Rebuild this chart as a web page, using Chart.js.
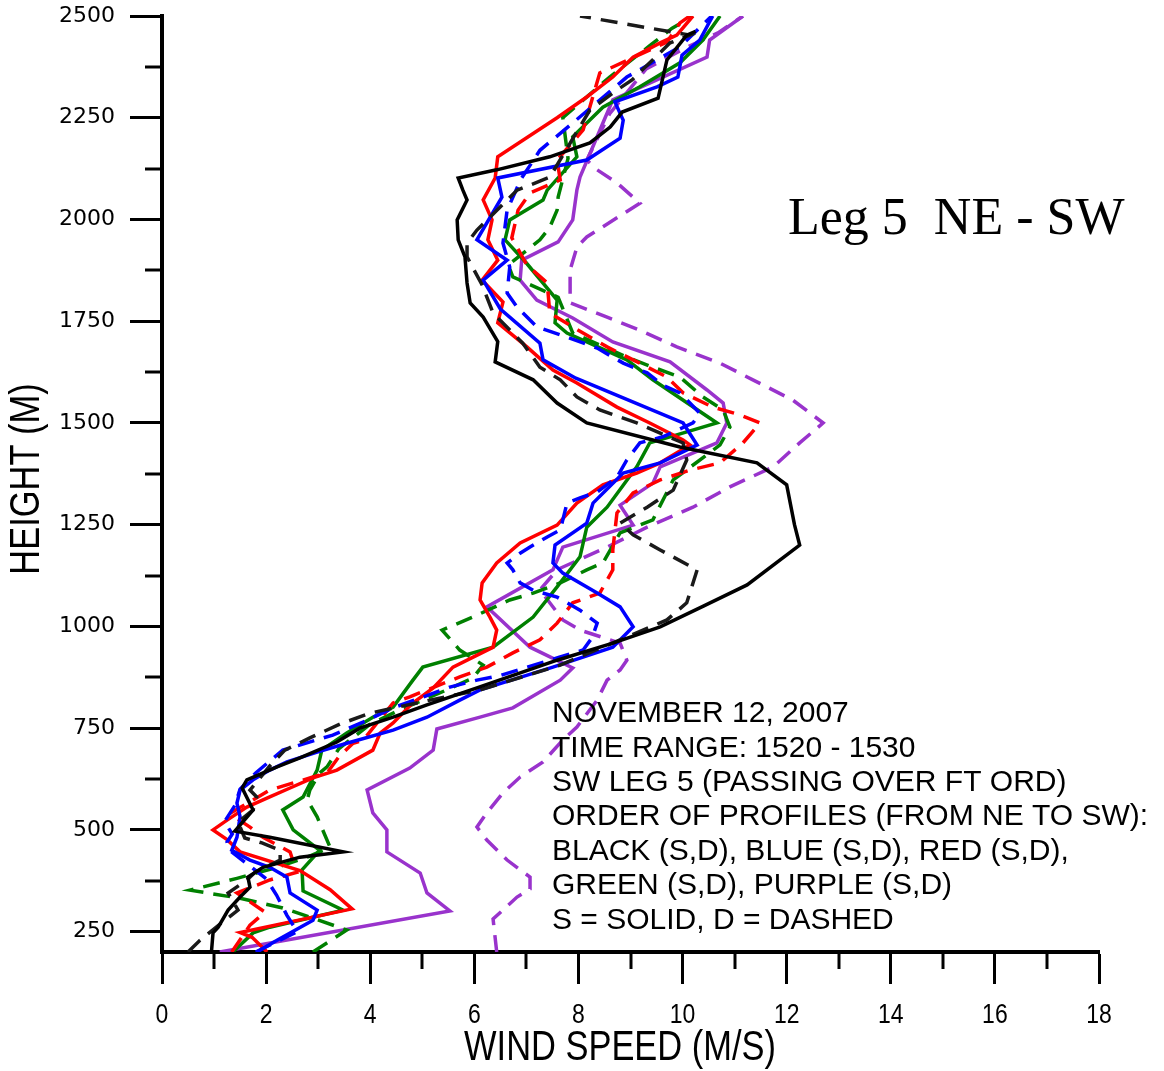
<!DOCTYPE html>
<html>
<head>
<meta charset="utf-8">
<script src="https://cdn.jsdelivr.net/npm/chart.js@4.4.0/dist/chart.umd.min.js"></script>
<style>
  html, body { margin: 0; padding: 0; background: #fff; }
  #wrap { width: 1164px; height: 1071px; }
</style>
</head>
<body>
<div id="wrap"><canvas id="grafica" width="1164" height="1071"></canvas></div>
<script>
// Perfiles de viento - Leg 5 NE - SW (velocidad en m/s, altura en m)

const xMajorTicks = [0, 2, 4, 6, 8, 10, 12, 14, 16, 18];
const xMinorTicks = [1, 3, 5, 7, 9, 11, 13, 15, 17];
const yMajorTicks = [250, 500, 750, 1000, 1250, 1500, 1750, 2000, 2250, 2500];
const yMinorTicks = [375, 625, 875, 1125, 1375, 1625, 1875, 2125, 2375];

// negro continuo
const blackSolidSpeed = [0.95, 0.98, 1.08, 1.27, 1.50, 1.69, 1.65, 1.94, 2.65, 3.48, 2.07, 1.40, 1.75, 1.54, 1.63, 2.21, 2.65, 3.36, 3.80, 4.44, 5.09, 6.05, 7.59, 8.66, 9.57, 10.40, 11.24, 12.25, 12.15, 12.0, 11.43, 9.95, 8.16, 7.59, 7.13, 6.40, 6.45, 6.17, 5.92, 5.86, 5.82, 5.69, 5.67, 5.86, 5.78, 5.69, 6.43, 7.45, 8.22, 8.61, 8.84, 9.53, 9.70, 10.08, 10.25];
const blackSolidHeight = [200, 247, 261, 303, 335, 359, 384, 408, 433, 446, 482, 497, 549, 603, 623, 655, 677, 716, 750, 777, 807, 849, 917, 959, 999, 1050, 1102, 1200, 1250, 1348, 1402, 1441, 1500, 1549, 1606, 1650, 1700, 1760, 1795, 1844, 1908, 1950, 1999, 2048, 2072, 2102, 2122, 2154, 2188, 2227, 2264, 2298, 2392, 2453, 2462];

// negro discontinuo
const blackDashSpeed = [0.50, 0.73, 1.02, 1.46, 1.27, 1.63, 1.79, 2.27, 2.27, 1.92, 1.59, 1.46, 1.75, 1.82, 1.69, 2.07, 2.36, 2.84, 3.42, 4.0, 5.15, 6.11, 7.65, 8.80, 9.70, 10.08, 10.28, 9.57, 9.05, 8.80, 9.32, 9.82, 10.08, 10.01, 9.12, 8.41, 7.97, 7.65, 7.26, 6.93, 6.36, 6.15, 5.86, 5.86, 6.05, 6.82, 7.45, 8.22, 8.74, 9.03, 9.76, 10.14, 8.03];
const blackDashHeight = [200, 229, 259, 303, 345, 377, 396, 426, 450, 468, 480, 519, 549, 581, 598, 657, 696, 726, 760, 787, 819, 844, 905, 967, 1016, 1058, 1139, 1188, 1225, 1254, 1293, 1335, 1409, 1451, 1500, 1532, 1564, 1606, 1637, 1696, 1770, 1839, 1908, 1942, 1974, 2072, 2104, 2269, 2318, 2343, 2434, 2453, 2500];

// azul continuo
const blueSolidSpeed = [1.82, 2.21, 2.90, 2.98, 2.46, 2.40, 2.07, 1.69, 1.34, 1.44, 1.50, 1.44, 1.50, 1.75, 2.07, 2.40, 2.98, 3.55, 4.44, 5.09, 5.72, 6.11, 7.51, 8.66, 9.05, 8.80, 8.36, 7.70, 7.51, 7.55, 8.16, 8.28, 8.86, 9.57, 10.28, 10.01, 7.95, 7.32, 7.26, 6.50, 6.17, 6.63, 6.05, 6.53, 6.45, 8.16, 8.80, 8.86, 8.70, 9.51, 9.91, 9.99, 10.33, 10.58];
const blueSolidHeight = [200, 229, 278, 303, 345, 384, 408, 426, 450, 482, 532, 566, 598, 623, 647, 667, 691, 713, 745, 777, 819, 844, 900, 949, 999, 1048, 1082, 1131, 1156, 1200, 1254, 1303, 1377, 1402, 1446, 1500, 1610, 1655, 1696, 1780, 1851, 1900, 1950, 2055, 2102, 2146, 2200, 2244, 2289, 2326, 2350, 2404, 2441, 2500];

// azul discontinuo
const blueDashSpeed = [1.80, 2.60, 2.40, 2.20, 2.00, 1.60, 1.30, 1.25, 1.35, 1.20, 1.40, 1.50, 1.80, 2.32, 3.28, 3.86, 4.44, 4.96, 5.53, 6.05, 6.49, 7.65, 8.09, 8.26, 8.36, 8.03, 7.59, 7.13, 6.88, 6.74, 6.63, 6.88, 7.07, 7.40, 7.65, 7.70, 7.78, 8.03, 8.36, 8.74, 8.93, 9.18, 9.62, 10.20, 10.33, 9.95, 9.62, 9.32, 8.86, 8.36, 7.78, 7.20, 6.82, 6.63, 6.68, 6.55, 6.63, 6.90, 7.26, 7.89, 8.93, 9.95, 10.56];
const blueDashHeight = [200, 250, 290, 340, 380, 420, 450, 470, 490, 520, 560, 600, 640, 696, 733, 765, 800, 824, 851, 868, 879, 925, 942, 972, 1008, 1040, 1072, 1089, 1107, 1139, 1156, 1180, 1195, 1220, 1237, 1262, 1303, 1316, 1330, 1367, 1409, 1451, 1466, 1500, 1524, 1574, 1593, 1623, 1647, 1684, 1711, 1736, 1785, 1819, 1883, 1942, 2023, 2100, 2170, 2237, 2350, 2424, 2500];

// rojo continuo
const redSolidSpeed = [2.02, 1.73, 1.50, 3.65, 3.23, 2.65, 1.50, 1.25, 0.98, 1.25, 1.63, 2.07, 2.46, 2.90, 3.36, 4.05, 4.19, 4.44, 4.80, 5.21, 5.59, 6.36, 6.43, 6.30, 6.11, 6.15, 6.43, 6.88, 7.59, 7.97, 8.47, 9.12, 9.57, 10.14, 10.01, 9.37, 8.74, 7.97, 7.51, 7.01, 6.45, 6.55, 6.15, 6.45, 6.26, 6.34, 6.17, 6.40, 6.45, 7.59, 8.16, 8.66, 9.05, 9.57, 9.89, 10.20];
const redSolidHeight = [200, 236, 248, 306, 353, 400, 446, 476, 500, 524, 556, 581, 603, 628, 647, 696, 738, 763, 810, 849, 900, 949, 991, 1023, 1065, 1107, 1156, 1205, 1249, 1303, 1348, 1377, 1402, 1446, 1458, 1500, 1539, 1598, 1630, 1687, 1746, 1797, 1851, 1900, 1950, 1999, 2048, 2102, 2154, 2250, 2301, 2350, 2399, 2434, 2453, 2500];

// rojo discontinuo
const redDashSpeed = [1.34, 1.69, 1.98, 1.44, 2.07, 2.59, 2.46, 1.94, 1.69, 1.30, 2.07, 2.90, 3.17, 3.40, 3.67, 3.86, 4.44, 4.76, 5.72, 6.24, 6.74, 7.26, 7.59, 7.89, 8.41, 8.66, 8.66, 8.74, 9.05, 9.57, 10.14, 10.72, 11.16, 11.49, 11.10, 10.58, 10.01, 9.70, 9.05, 8.55, 7.89, 7.45, 7.40, 7.01, 6.72, 6.84, 7.07, 7.65, 7.59, 8.09, 8.41, 9.70, 9.95, 10.14];
const redDashHeight = [200, 266, 298, 345, 377, 396, 446, 482, 507, 540, 598, 630, 640, 680, 713, 720, 812, 827, 876, 900, 935, 967, 1008, 1058, 1082, 1139, 1188, 1279, 1328, 1360, 1384, 1402, 1451, 1500, 1520, 1539, 1574, 1613, 1655, 1687, 1736, 1770, 1844, 1888, 1955, 2023, 2065, 2097, 2146, 2220, 2360, 2436, 2483, 2500];

// verde continuo
const greenSolidSpeed = [1.36, 1.75, 2.07, 3.48, 2.71, 2.69, 3.03, 2.52, 2.32, 2.71, 2.98, 3.07, 3.55, 4.05, 4.44, 4.82, 5.01, 6.36, 7.13, 7.59, 8.03, 8.16, 8.55, 9.12, 9.37, 10.66, 9.43, 8.93, 7.78, 7.55, 7.59, 7.00, 6.59, 6.68, 7.32, 7.40, 7.97, 7.89, 8.47, 9.18, 9.95, 10.39, 10.72];
const greenSolidHeight = [200, 247, 261, 303, 350, 402, 450, 500, 549, 581, 647, 696, 738, 777, 802, 868, 900, 949, 1023, 1097, 1171, 1244, 1293, 1392, 1451, 1500, 1606, 1655, 1721, 1746, 1802, 1893, 1950, 1999, 2048, 2072, 2154, 2203, 2276, 2326, 2385, 2441, 2500];

// verde discontinuo
const greenDashSpeed = [2.90, 3.55, 2.84, 2.32, 1.50, 0.54, 1.44, 2.21, 2.79, 3.23, 2.98, 2.79, 2.84, 3.03, 3.17, 3.40, 4.00, 4.57, 5.47, 5.97, 6.17, 5.72, 5.38, 5.97, 6.68, 7.13, 7.65, 8.16, 8.47, 8.80, 9.43, 9.82, 10.72, 10.91, 10.78, 10.39, 9.95, 9.43, 8.93, 7.89, 7.61, 6.74, 6.65, 7.26, 7.45, 7.59, 7.61, 7.80, 7.70, 8.60, 9.40, 9.80, 10.20];
const greenDashHeight = [200, 254, 286, 308, 332, 352, 381, 408, 433, 457, 532, 574, 598, 640, 655, 700, 760, 795, 844, 873, 905, 942, 991, 1023, 1065, 1082, 1107, 1139, 1156, 1230, 1262, 1360, 1446, 1490, 1532, 1564, 1613, 1637, 1662, 1721, 1809, 1859, 1888, 1950, 1981, 2023, 2055, 2150, 2250, 2350, 2430, 2470, 2500];

// morado continuo
const purpleSolidSpeed = [1.11, 5.53, 5.09, 4.96, 4.32, 4.32, 4.05, 3.94, 4.76, 5.21, 5.28, 6.11, 6.74, 7.65, 7.89, 7.07, 6.24, 7.51, 7.70, 9.05, 8.80, 9.43, 9.57, 10.66, 10.85, 10.78, 10.47, 9.76, 8.66, 7.89, 7.20, 6.88, 6.91, 7.61, 7.89, 7.97, 8.03, 8.47, 8.66, 10.47, 10.52, 11.16];
const purpleSolidHeight = [200, 301, 345, 394, 446, 500, 542, 598, 652, 696, 748, 777, 800, 868, 898, 949, 1048, 1139, 1195, 1249, 1298, 1352, 1392, 1451, 1500, 1549, 1581, 1650, 1699, 1758, 1802, 1851, 1900, 1945, 1999, 2072, 2104, 2237, 2294, 2399, 2441, 2500];

// morado discontinuo
const purpleDashSpeed = [6.43, 6.36, 6.82, 7.07, 7.07, 6.63, 6.24, 6.05, 6.24, 6.55, 6.88, 7.32, 7.70, 7.97, 8.36, 8.55, 8.80, 8.93, 8.80, 8.03, 7.70, 7.26, 7.60, 8.55, 9.32, 10.20, 10.91, 11.74, 12.25, 12.70, 12.12, 11.35, 10.72, 9.89, 9.18, 8.55, 7.84, 7.84, 7.97, 8.16, 8.47, 9.18, 8.74, 8.36, 8.16, 8.60, 9.30, 10.10, 10.70, 11.16];
const purpleDashHeight = [200, 281, 335, 355, 384, 426, 475, 507, 542, 591, 630, 667, 721, 753, 819, 868, 893, 917, 959, 991, 1016, 1090, 1140, 1195, 1244, 1293, 1343, 1392, 1451, 1500, 1556, 1606, 1647, 1687, 1728, 1760, 1795, 1876, 1932, 1957, 1982, 2040, 2090, 2122, 2146, 2260, 2370, 2424, 2460, 2500];

const notas = [
    'NOVEMBER 12, 2007',
    'TIME RANGE: 1520 - 1530',
    'SW LEG 5 (PASSING OVER FT ORD)',
    'ORDER OF PROFILES (FROM NE TO SW):',
    'BLACK (S,D), BLUE (S,D), RED (S,D),',
    'GREEN (S,D), PURPLE (S,D)',
    'S = SOLID, D = DASHED'
];

function perfil(speeds, heights) {
    return speeds.map((s, i) => ({ x: s, y: heights[i] }));
}

function serie(nombre, speeds, heights, color, dashed) {
    return {
        label: nombre,
        data: perfil(speeds, heights),
        showLine: true,
        borderColor: color,
        backgroundColor: color,
        borderWidth: 3.5,
        borderDash: dashed ? [17, 10] : [],
        pointRadius: 0,
        tension: 0,
        fill: false
    };
}

// texto estrecho (tipo Arial Narrow)
function textoEstrecho(ctx, texto, x, y, rot, size) {
    ctx.save();
    ctx.translate(x, y);
    ctx.rotate(rot);
    ctx.scale(0.82, 1);
    ctx.font = size + 'px "Liberation Sans", Arial, sans-serif';
    ctx.textAlign = 'center';
    ctx.textBaseline = 'middle';
    ctx.fillText(texto, 0, 0);
    ctx.restore();
}

// Ticks menores, títulos y textos
const extras = {
    id: 'extras',
    afterDraw(chart) {
        const { ctx, chartArea, scales: { x, y } } = chart;
        ctx.save();
        ctx.strokeStyle = '#000';
        ctx.lineWidth = 3;
        xMinorTicks.forEach(v => {
            const px = Math.round(x.getPixelForValue(v));
            ctx.beginPath();
            ctx.moveTo(px, chartArea.bottom);
            ctx.lineTo(px, chartArea.bottom + 17);
            ctx.stroke();
        });
        yMinorTicks.forEach(v => {
            const py = Math.round(y.getPixelForValue(v));
            ctx.beginPath();
            ctx.moveTo(chartArea.left - 17, py);
            ctx.lineTo(chartArea.left, py);
            ctx.stroke();
        });

        ctx.fillStyle = '#000';
        textoEstrecho(ctx, 'WIND SPEED (M/S)', 620, 1048, 0, 42);
        textoEstrecho(ctx, 'HEIGHT (M)', 27, 479, -Math.PI / 2, 42);

        // etiquetas del eje x, estrechas como en el original
        xMajorTicks.forEach(v => {
            textoEstrecho(ctx, String(v), x.getPixelForValue(v), 1015, 0, 28);
        });

        ctx.font = '52px "Liberation Serif", "Times New Roman", serif';
        ctx.textAlign = 'left';
        ctx.textBaseline = 'alphabetic';
        ctx.fillText('Leg 5  NE - SW', 788, 234);

        ctx.font = '30px "Liberation Sans", Arial, sans-serif';
        ctx.textBaseline = 'middle';
        notas.forEach((t, i) => ctx.fillText(t, 552, 714 + i * 34.4));
        ctx.restore();
    }
};

const ctx = document.getElementById('grafica').getContext('2d');
new Chart(ctx, {
    type: 'scatter',
    data: {
        datasets: [
            serie('Black S', blackSolidSpeed, blackSolidHeight, '#000000', false),
            serie('Black D', blackDashSpeed, blackDashHeight, '#1a1a1a', true),
            serie('Blue S', blueSolidSpeed, blueSolidHeight, '#0000ff', false),
            serie('Blue D', blueDashSpeed, blueDashHeight, '#0000ff', true),
            serie('Red S', redSolidSpeed, redSolidHeight, '#ff0000', false),
            serie('Red D', redDashSpeed, redDashHeight, '#ff0000', true),
            serie('Green S', greenSolidSpeed, greenSolidHeight, '#008000', false),
            serie('Green D', greenDashSpeed, greenDashHeight, '#008000', true),
            serie('Purple S', purpleSolidSpeed, purpleSolidHeight, '#9933cc', false),
            serie('Purple D', purpleDashSpeed, purpleDashHeight, '#9933cc', true)
        ]
    },
    options: {
        responsive: false,
        animation: false,
        devicePixelRatio: 1,
        layout: { padding: { top: 16, right: 65, bottom: 0, left: 0 } },
        plugins: {
            legend: { display: false },
            tooltip: { enabled: false }
        },
        scales: {
            x: {
                type: 'linear',
                min: 0,
                max: 18,
                afterFit(scale) { scale.height = 119; },
                afterBuildTicks(scale) { scale.ticks = xMajorTicks.map(v => ({ value: v })); },
                border: { display: true, width: 4, color: '#000' },
                grid: { drawOnChartArea: false, drawTicks: true, tickLength: 32, tickWidth: 3, tickColor: '#000' },
                ticks: { display: false }
            },
            y: {
                type: 'linear',
                min: 200,
                max: 2500,
                afterFit(scale) {
                    scale.width = 162;
                    scale.paddingTop = 0;
                    scale.paddingBottom = 0;
                },
                afterBuildTicks(scale) { scale.ticks = yMajorTicks.map(v => ({ value: v })); },
                border: { display: true, width: 4, color: '#000' },
                grid: { drawOnChartArea: false, drawTicks: true, tickLength: 32, tickWidth: 3, tickColor: '#000' },
                ticks: {
                    color: '#000',
                    padding: 15,
                    font: { family: '"DejaVu Sans", sans-serif', size: 22 },
                    callback: v => String(v)
                }
            }
        }
    },
    plugins: [extras]
});
</script>
</body>
</html>
